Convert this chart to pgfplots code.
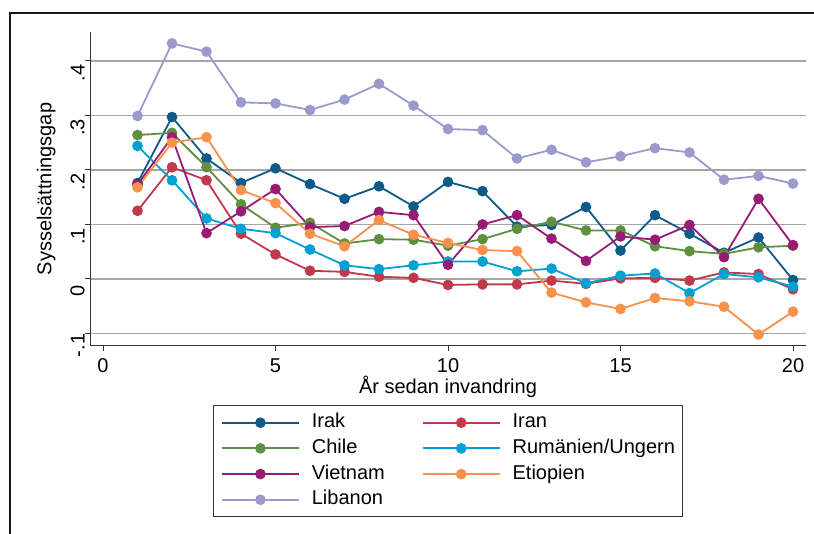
\documentclass[border=0pt]{standalone}
\usepackage{pgfplots}
\pgfplotsset{compat=1.18}
\usepackage{fontspec}
\setmainfont{Liberation Sans}
\definecolor{cIrak}{HTML}{0E5A88}
\definecolor{cIran}{HTML}{C03A4C}
\definecolor{cChile}{HTML}{5F9040}
\definecolor{cRum}{HTML}{00A1D2}
\definecolor{cViet}{HTML}{981C74}
\definecolor{cEtio}{HTML}{F7914C}
\definecolor{cLib}{HTML}{9A9BCC}
\begin{document}
\begin{tikzpicture}[font=\fontsize{10}{12}\selectfont]
\begin{axis}[
  at={(0,0)}, anchor=south west,
  scale only axis, width=358pt, height=157pt,
  xmin=-0.377, xmax=20.377, ymin=-0.123, ymax=0.453,
  axis x line*=bottom, axis y line*=left,
  axis line style={-, draw=black!80, line width=0.5pt},
  xtick={0,5,10,15,20}, xticklabels={0,5,10,15,20},
  ytick={-0.1,0,0.1,0.2,0.3,0.4}, yticklabels={-.1,0,.1,.2,.3,.4},
  tick align=outside, major tick length=2.5pt,
  tick style={draw=black!80, line width=0.5pt},
  yticklabel style={rotate=90, anchor=south, inner sep=0pt, xshift=-6pt},
  xticklabel style={inner sep=0pt, yshift=-3.5pt},
  ymajorgrids, grid style={draw=black!35, line width=0.85pt},
  xlabel={År sedan invandring}, ylabel={Sysselsättningsgap},
  xlabel style={at={(axis description cs:0.5,0)}, anchor=north, inner sep=0pt, yshift=-15pt},
  ylabel style={at={(axis description cs:0,0.5)}, anchor=south, inner sep=0pt, yshift=17pt},
  every axis plot/.append style={line width=0.9pt, mark=*, mark size=2.2pt},
  legend columns=2,
  legend cell align=left,
  legend image code/.code={\draw[mark repeat=2,mark phase=2,#1] plot coordinates {(0pt,0pt)(19.25pt,0pt)(38.5pt,0pt)};},
  legend style={at={(axis description cs:0.5,-0.1879)}, anchor=north,
    draw=black!80, line width=0.5pt, inner xsep=4pt, inner ysep=4pt,
    nodes={inner sep=0pt, text height=7.2pt, text depth=2pt},
    row sep=3.65pt, column sep=6pt,
    /tikz/every even column/.append style={column sep=18.5pt}},
]
\addplot[cIrak, mark options={fill=cIrak, draw=cIrak}] coordinates {(1,0.176)(2,0.297)(3,0.221)(4,0.176)(5,0.203)(6,0.174)(7,0.147)(8,0.170)(9,0.133)(10,0.178)(11,0.161)(12,0.096)(13,0.099)(14,0.132)(15,0.052)(16,0.117)(17,0.083)(18,0.048)(19,0.076)(20,-0.002)};
\addlegendentry{Irak}
\addplot[cIran, mark options={fill=cIran, draw=cIran}] coordinates {(1,0.125)(2,0.205)(3,0.181)(4,0.083)(5,0.045)(6,0.015)(7,0.013)(8,0.004)(9,0.002)(10,-0.011)(11,-0.010)(12,-0.010)(13,-0.003)(14,-0.009)(15,0.001)(16,0.002)(17,-0.003)(18,0.012)(19,0.009)(20,-0.019)};
\addlegendentry{Iran}
\addplot[cChile, mark options={fill=cChile, draw=cChile}] coordinates {(1,0.264)(2,0.268)(3,0.205)(4,0.137)(5,0.094)(6,0.103)(7,0.065)(8,0.073)(9,0.072)(10,0.061)(11,0.073)(12,0.092)(13,0.105)(14,0.089)(15,0.089)(16,0.060)(17,0.051)(18,0.046)(19,0.058)(20,0.061)};
\addlegendentry{Chile}
\addplot[cRum, mark options={fill=cRum, draw=cRum}] coordinates {(1,0.244)(2,0.181)(3,0.111)(4,0.092)(5,0.084)(6,0.054)(7,0.025)(8,0.018)(9,0.025)(10,0.032)(11,0.032)(12,0.014)(13,0.019)(14,-0.008)(15,0.006)(16,0.010)(17,-0.026)(18,0.009)(19,0.003)(20,-0.014)};
\addlegendentry{Rumänien/Ungern}
\addplot[cViet, mark options={fill=cViet, draw=cViet}] coordinates {(1,0.173)(2,0.260)(3,0.084)(4,0.124)(5,0.165)(6,0.095)(7,0.097)(8,0.123)(9,0.117)(10,0.026)(11,0.100)(12,0.117)(13,0.074)(14,0.033)(15,0.078)(16,0.072)(17,0.099)(18,0.040)(19,0.147)(20,0.062)};
\addlegendentry{Vietnam}
\addplot[cEtio, mark options={fill=cEtio, draw=cEtio}] coordinates {(1,0.168)(2,0.250)(3,0.260)(4,0.163)(5,0.139)(6,0.083)(7,0.060)(8,0.108)(9,0.081)(10,0.066)(11,0.053)(12,0.051)(13,-0.025)(14,-0.043)(15,-0.055)(16,-0.035)(17,-0.041)(18,-0.051)(19,-0.102)(20,-0.060)};
\addlegendentry{Etiopien}
\addplot[cLib, mark options={fill=cLib, draw=cLib}] coordinates {(1,0.299)(2,0.432)(3,0.417)(4,0.324)(5,0.322)(6,0.310)(7,0.329)(8,0.358)(9,0.318)(10,0.275)(11,0.273)(12,0.221)(13,0.237)(14,0.214)(15,0.225)(16,0.240)(17,0.232)(18,0.182)(19,0.189)(20,0.175)};
\addlegendentry{Libanon}
\end{axis}
\draw[black!90, line width=0.6pt] (-40pt,-95pt) -- (-40pt,166.5pt) -- (363pt,166.5pt);
\pgfresetboundingbox
\useasboundingbox (-45pt,-94pt) rectangle (362pt,173pt);
\end{tikzpicture}
\end{document}
